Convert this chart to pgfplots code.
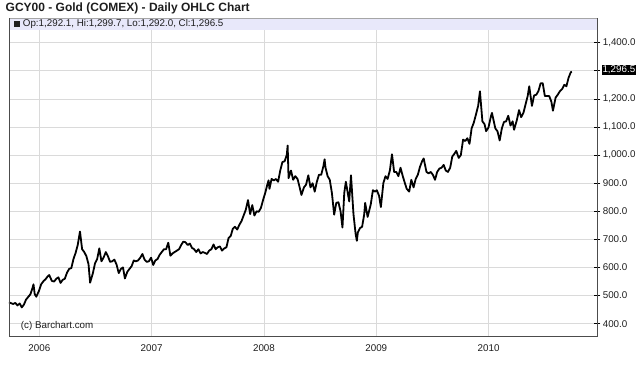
\documentclass[border=0pt]{standalone}
\usepackage{fontspec}
\setmainfont{Liberation Sans}
\usepackage{pgfplots}
\pgfplotsset{compat=1.18}
\usepackage{pgfplotstable}
\definecolor{band}{RGB}{232,232,250}
\definecolor{gridc}{RGB}{218,218,218}
\definecolor{txt}{RGB}{30,30,30}
\pgfplotstableread{
x y
2005.730 476
2005.748 473
2005.767 470
2005.786 474
2005.805 465
2005.825 472
2005.844 458
2005.863 468
2005.882 486
2005.901 495
2005.921 505
2005.940 528
2005.948 540
2005.959 505
2005.973 496
2005.997 517
2006.016 540
2006.036 551
2006.055 558
2006.074 568
2006.088 573
2006.112 552
2006.132 550
2006.151 560
2006.170 565
2006.189 545
2006.208 556
2006.227 560
2006.247 582
2006.266 595
2006.285 598
2006.304 630
2006.323 652
2006.342 680
2006.362 728
2006.381 665
2006.400 655
2006.419 640
2006.438 612
2006.452 546
2006.477 580
2006.496 615
2006.515 630
2006.534 668
2006.553 622
2006.573 636
2006.592 655
2006.611 640
2006.630 620
2006.649 622
2006.668 628
2006.688 610
2006.707 580
2006.726 595
2006.745 600
2006.762 561
2006.784 585
2006.803 595
2006.822 605
2006.841 625
2006.860 622
2006.879 625
2006.899 635
2006.918 648
2006.937 628
2006.956 620
2006.975 622
2006.995 635
2007.014 609
2007.033 625
2007.052 630
2007.071 645
2007.090 655
2007.110 665
2007.129 665
2007.148 688
2007.167 642
2007.186 650
2007.205 655
2007.225 660
2007.244 665
2007.263 680
2007.282 692
2007.301 690
2007.321 680
2007.340 685
2007.359 670
2007.378 665
2007.397 655
2007.416 665
2007.436 650
2007.455 655
2007.474 652
2007.493 648
2007.512 660
2007.532 665
2007.551 682
2007.570 665
2007.589 672
2007.608 675
2007.627 660
2007.647 668
2007.666 672
2007.685 705
2007.704 712
2007.723 738
2007.742 745
2007.762 735
2007.781 752
2007.800 765
2007.819 785
2007.838 805
2007.858 840
2007.877 790
2007.896 822
2007.915 785
2007.934 800
2007.953 798
2007.973 812
2007.992 840
2008.011 865
2008.030 895
2008.041 910
2008.049 880
2008.068 915
2008.088 910
2008.107 915
2008.126 905
2008.145 945
2008.164 975
2008.184 978
2008.203 1000
2008.211 1034
2008.219 918
2008.241 945
2008.260 912
2008.279 925
2008.299 915
2008.318 885
2008.334 858
2008.356 885
2008.375 895
2008.395 928
2008.414 885
2008.433 900
2008.452 870
2008.471 905
2008.490 930
2008.510 930
2008.529 960
2008.540 985
2008.548 955
2008.567 925
2008.586 912
2008.605 865
2008.625 788
2008.644 830
2008.663 832
2008.682 800
2008.699 742
2008.715 865
2008.729 905
2008.740 880
2008.759 835
2008.775 928
2008.789 840
2008.797 790
2008.816 720
2008.827 695
2008.836 725
2008.855 740
2008.874 745
2008.893 790
2008.901 830
2008.923 780
2008.951 825
2008.970 875
2008.989 870
2009.005 875
2009.025 855
2009.041 815
2009.063 900
2009.082 925
2009.101 915
2009.121 945
2009.140 1003
2009.159 940
2009.178 940
2009.197 925
2009.216 955
2009.236 925
2009.255 900
2009.271 880
2009.293 870
2009.312 912
2009.332 885
2009.351 915
2009.370 930
2009.389 958
2009.408 978
2009.422 988
2009.447 940
2009.466 935
2009.485 940
2009.504 930
2009.523 912
2009.542 940
2009.562 952
2009.581 955
2009.600 965
2009.619 945
2009.638 940
2009.658 955
2009.677 995
2009.696 1005
2009.712 1015
2009.734 990
2009.753 1000
2009.773 1055
2009.792 1050
2009.811 1060
2009.830 1040
2009.849 1095
2009.868 1115
2009.888 1145
2009.907 1175
2009.923 1227
2009.945 1120
2009.964 1110
2009.978 1085
2009.999 1098
2010.022 1140
2010.030 1150
2010.041 1130
2010.060 1095
2010.079 1085
2010.099 1052
2010.118 1095
2010.137 1118
2010.156 1120
2010.175 1140
2010.195 1105
2010.214 1120
2010.227 1090
2010.252 1125
2010.271 1160
2010.290 1135
2010.310 1150
2010.329 1180
2010.348 1210
2010.362 1245
2010.367 1230
2010.386 1175
2010.405 1212
2010.425 1215
2010.444 1228
2010.463 1255
2010.482 1256
2010.501 1210
2010.521 1210
2010.540 1210
2010.559 1190
2010.573 1158
2010.597 1205
2010.616 1215
2010.636 1228
2010.655 1235
2010.674 1250
2010.693 1245
2010.712 1275
2010.732 1295
2010.742 1296.5
}\gold
\begin{document}
\begin{tikzpicture}[x=1pt,y=1pt]
\path[use as bounding box,fill=white] (0,0) rectangle (640,374);
\node[anchor=base west,font=\bfseries\fontsize{12}{14}\selectfont,inner sep=0,text=txt] at (5.5,362.3) {GCY00 - Gold (COMEX) - Daily OHLC Chart};
\begin{axis}[
  at={(9pt,37.3pt)}, anchor=south west, scale only axis,
  width=588.3pt, height=318.4pt,
  xmin=2005.730, xmax=2010.968, ymin=353.7, ymax=1486.8,
  clip=false,
  axis line style={draw=none},
  xtick={2006,2007,2008,2009,2010},
  xticklabels={2006,2007,2008,2009,2010},
  ytick={400,500,600,700,800,900,1000,1100,1200,1300,1400},
  yticklabels={400.0,500.0,600.0,700.0,800.0,900.0,{1,000.0},{1,100.0},{1,200.0},{},{1,400.0}},
  xmajorgrids, ymajorgrids,
  grid style={gridc, line width=0.6pt},
  xtick pos=bottom, ytick pos=right, yticklabel pos=right,
  xtick style={draw=none},
  ytick style={black, line width=0.6pt},
  major tick length=6pt, tick align=center,
  tick label style={font=\fontsize{9.8}{11}\selectfont, text=txt},
  yticklabel style={anchor=west, xshift=-1pt},
  xticklabel style={yshift=-1pt},
]
\fill[band] (rel axis cs:0,1) rectangle ([yshift=-12.2pt]rel axis cs:1,1);
\addplot[black, line width=1.8pt, line join=round] table[x=x,y=y] {\gold};
\node[anchor=west,font=\fontsize{9.8}{11}\selectfont,inner sep=0,text=txt] at ([xshift=5pt,yshift=-6.1pt]rel axis cs:0,1) {\rule{6pt}{6pt} Op:1,292.1, Hi:1,299.7, Lo:1,292.0, Cl:1,296.5};
\node[anchor=base west,font=\fontsize{9.8}{11}\selectfont,inner sep=0,text=txt] at ([xshift=11.7pt,yshift=8.2pt]rel axis cs:0,0) {(c) Barchart.com};
\draw[black!35, line width=0.5pt] (rel axis cs:0,1) -- (rel axis cs:1,1);
\draw[black!70, line width=0.9pt] (rel axis cs:0,1) -- (rel axis cs:0,0) -- (rel axis cs:1,0) -- (rel axis cs:1,1);
\node[fill=black, text=white, anchor=west, inner xsep=1pt, inner ysep=0.6pt, font=\fontsize{9.8}{11}\selectfont] at ([xshift=4pt]axis cs:2010.968,1303) {1,296.5};
\end{axis}
\end{tikzpicture}
\end{document}
